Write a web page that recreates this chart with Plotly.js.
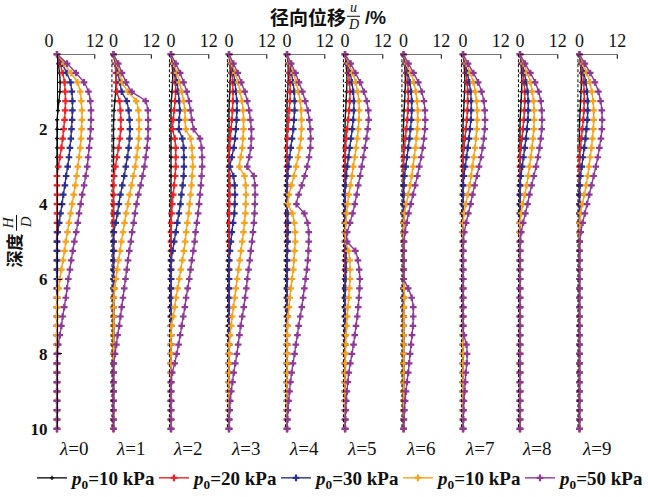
<!DOCTYPE html>
<html><head><meta charset="utf-8">
<script src="https://cdn.plot.ly/plotly-3.0.1.min.js"></script>
<style>html,body{margin:0;padding:0;background:#fff}</style>
</head><body><div id="chart" style="width:648px;height:497px"></div>
<script>
// depth H/D
const depth = [0,0.25,0.5,0.75,1,1.25,1.5,1.75,2,2.25,2.5,2.75,3,3.25,3.5,3.75,4,4.25,4.5,4.75,5,5.25,5.5,5.75,6,6.25,6.5,6.75,7,7.25,7.5,7.75,8,8.25,8.5,8.75,9,9.25,9.5,9.75,10];
const lambdas = [0,1,2,3,4,5,6,7,8,9];
const seriesNames = ['<i>p</i><sub>0</sub>=10 kPa','<i>p</i><sub>0</sub>=20 kPa','<i>p</i><sub>0</sub>=30 kPa','<i>p</i><sub>0</sub>=10 kPa','<i>p</i><sub>0</sub>=50 kPa'];

// radial displacement u/D (%) for each lambda panel
const p10a = [
 [0,0.4,0.8,1.0,0.9,0.6,0.3,0.05,0, 0,0,0,0,0,0,0,0, 0,0,0,0,0,0,0,0, 0,0,0,0,0,0,0,0, 0,0,0,0,0,0,0,0],
 [0,0.5,0.75,0.8,0.7,0.4,0.2,0.05,0, 0,0,0,0,0,0,0,0, 0,0,0,0,0,0,0,0, 0,0,0,0,0,0,0,0, 0,0,0,0,0,0,0,0],
 [0,0.3,0.55,0.5,0.35,0.1,0, 0,0,0,0,0,0,0,0, 0,0,0,0,0,0,0,0, 0,0,0,0,0,0,0,0, 0,0,0,0,0,0,0,0, 0,0],
 [0,0.25,0.4,0.35,0.25,0.1,0, 0,0,0,0,0,0,0,0, 0,0,0,0,0,0,0,0, 0,0,0,0,0,0,0,0, 0,0,0,0,0,0,0,0, 0,0],
 [0,0.3,0.4,0.35,0.2,0.05,0, 0,0,0,0,0,0,0,0, 0,0,0,0,0,0,0,0, 0,0,0,0,0,0,0,0, 0,0,0,0,0,0,0,0, 0,0],
 [0,0.3,0.55,0.6,0.5,0.35,0.2,0.05,0, 0,0,0,0,0,0,0,0, 0,0,0,0,0,0,0,0, 0,0,0,0,0,0,0,0, 0,0,0,0,0,0,0,0],
 [0,0.3,0.5,0.6,0.5,0.35,0.2,0.05,0, 0,0,0,0,0,0,0,0, 0,0,0,0,0,0,0,0, 0,0,0,0,0,0,0,0, 0,0,0,0,0,0,0,0],
 [0,0.3,0.5,0.6,0.5,0.35,0.2,0.05,0, 0,0,0,0,0,0,0,0, 0,0,0,0,0,0,0,0, 0,0,0,0,0,0,0,0, 0,0,0,0,0,0,0,0],
 [0,0.3,0.5,0.6,0.5,0.35,0.2,0.05,0, 0,0,0,0,0,0,0,0, 0,0,0,0,0,0,0,0, 0,0,0,0,0,0,0,0, 0,0,0,0,0,0,0,0],
 [0,0.3,0.5,0.6,0.5,0.35,0.2,0.05,0, 0,0,0,0,0,0,0,0, 0,0,0,0,0,0,0,0, 0,0,0,0,0,0,0,0, 0,0,0,0,0,0,0,0]
];
const p20 = [
 [0,0.9,1.8,2.4,2.6,2.7,2.6,2.4,2.1,1.8,1.4,0.9,0.4,0, 0,0,0,0,0,0,0,0, 0,0,0,0,0,0,0,0, 0,0,0,0,0,0,0,0, 0,0,0],
 [0,0.5,0.8,0.9,1.1,1.9,2.2,2.3,2.3,2.0,1.6,1.1,0.6,0.2,0, 0,0,0,0,0,0,0,0, 0,0,0,0,0,0,0,0, 0,0,0,0,0,0,0,0, 0,0],
 [0,0.5,1.0,1.4,1.5,1.3,1.0,0.7,0.5,1.2,1.5,1.5,1.5,1.3,1.0,0.7,0.4,0.2,0.05,0, 0,0,0,0,0,0,0,0, 0,0,0,0,0,0,0,0, 0,0,0,0,0],
 [0,0.45,0.9,1.15,1.25,1.25,1.1,0.9,0.65,0.4,0.2,0.05,0.05,0.2,0.25,0.2,0.15,0.1,0.05,0, 0,0,0,0,0,0,0,0, 0,0,0,0,0,0,0,0, 0,0,0,0,0],
 [0,0.5,0.8,1.0,1.0,0.9,0.7,0.5,0.3,0.1,0, 0,0,0,0,0,0,0,0, 0,0,0,0,0,0,0,0, 0,0,0,0,0,0,0,0, 0,0,0,0,0,0],
 [0,0.6,1.1,1.4,1.6,1.5,1.3,1.0,0.7,0.4,0.2,0.05,0, 0,0,0,0,0,0,0,0, 0,0,0,0,0,0,0,0, 0,0,0,0,0,0,0,0, 0,0,0,0],
 [0,0.5,1.0,1.3,1.5,1.5,1.4,1.2,0.9,0.6,0.3,0.05,0, 0,0,0,0,0,0,0,0, 0,0,0,0,0,0,0,0, 0,0,0,0,0,0,0,0, 0,0,0,0],
 [0,0.5,1.0,1.3,1.5,1.5,1.4,1.2,0.9,0.6,0.3,0.05,0, 0,0,0,0,0,0,0,0, 0,0,0,0,0,0,0,0, 0,0,0,0,0,0,0,0, 0,0,0,0],
 [0,0.5,1.0,1.3,1.5,1.5,1.4,1.2,0.9,0.6,0.3,0.05,0, 0,0,0,0,0,0,0,0, 0,0,0,0,0,0,0,0, 0,0,0,0,0,0,0,0, 0,0,0,0],
 [0,0.5,1.0,1.3,1.5,1.5,1.4,1.2,0.9,0.6,0.3,0.05,0, 0,0,0,0,0,0,0,0, 0,0,0,0,0,0,0,0, 0,0,0,0,0,0,0,0, 0,0,0,0]
];
const p30 = [
 [0,1.6,3.1,4.3,4.7,4.9,4.9,4.8,4.6,4.4,4.1,3.8,3.4,2.9,2.5,2.0,1.6,1.1,0.7,0.2,0, 0,0,0,0,0,0,0,0, 0,0,0,0,0,0,0,0, 0,0,0,0],
 [0,0.8,1.4,2.0,2.6,4.2,4.8,5.1,5.2,5.1,4.8,4.4,3.9,3.4,2.8,2.2,1.7,1.25,0.7,0.1,0, 0,0,0,0,0,0,0,0, 0,0,0,0,0,0,0,0, 0,0,0,0],
 [0,0.7,1.3,1.9,2.3,2.6,2.8,2.6,2.5,3.6,4.0,4.1,4.1,4.0,3.7,3.3,3.0,2.5,2.0,1.5,1.0,0.5,0.05,0, 0,0,0,0,0,0,0,0, 0,0,0,0,0,0,0,0, 0],
 [0,0.7,1.4,1.9,2.2,2.5,2.5,2.4,2.2,1.9,1.5,0.9,0.3,1.4,1.8,1.9,1.8,1.7,1.3,0.9,0.6,0.3,0.05,0, 0,0,0,0,0,0,0,0, 0,0,0,0,0,0,0,0, 0],
 [0,0.75,1.4,1.9,2.3,2.4,2.4,2.2,2.0,1.6,1.2,0.8,0.45,0.2,0.05,0,0,0.2,0.3,0.3,0.2,0.1,0, 0,0,0,0,0,0,0,0, 0,0,0,0,0,0,0,0, 0,0],
 [0,0.8,1.6,2.2,2.6,2.8,2.8,2.6,2.3,1.9,1.5,1.1,0.7,0.4,0.15,0,0,0,0,0,0.05,0.3,0.4,0.35,0.2,0.1,0, 0,0,0,0,0,0,0,0, 0,0,0,0,0,0],
 [0,0.7,1.4,2.0,2.4,2.6,2.6,2.5,2.2,1.9,1.5,1.1,0.7,0.3,0.05,0, 0,0,0,0,0,0,0,0, 0,0,0,0,0,0,0,0, 0,0,0,0,0,0,0,0, 0],
 [0,0.7,1.4,2.0,2.4,2.6,2.6,2.5,2.2,1.9,1.5,1.1,0.7,0.3,0.05,0, 0,0,0,0,0,0,0,0, 0,0,0,0,0,0,0,0, 0,0,0,0,0,0,0,0, 0],
 [0,0.7,1.4,2.0,2.4,2.6,2.6,2.5,2.2,1.9,1.5,1.1,0.7,0.3,0.05,0, 0,0,0,0,0,0,0,0, 0,0,0,0,0,0,0,0, 0,0,0,0,0,0,0,0, 0],
 [0,0.7,1.4,2.0,2.4,2.6,2.6,2.5,2.2,1.9,1.5,1.1,0.7,0.3,0.05,0, 0,0,0,0,0,0,0,0, 0,0,0,0,0,0,0,0, 0,0,0,0,0,0,0,0, 0]
];
const p10b = [
 [0,2.3,4.4,6.5,7.4,7.7,7.9,7.9,7.8,7.6,7.4,7.0,6.6,6.2,5.8,5.3,4.8,4.3,3.8,3.3,2.8,2.4,1.9,1.4,0.9,0.5,0.1,0, 0,0,0,0,0,0,0,0, 0,0,0,0,0],
 [0,1.1,2.0,2.7,4.6,7.2,7.9,8.1,8.1,8.0,7.7,7.3,6.9,6.3,5.7,5.1,4.6,4.0,3.5,3.0,2.5,2.1,1.6,1.2,0.8,0.4,0.05,0, 0,0,0,0,0,0,0,0, 0,0,0,0,0],
 [0,1.0,1.9,2.7,3.4,4.0,4.4,4.5,4.7,6.2,6.6,6.8,6.9,6.7,6.5,6.2,5.9,5.6,5.2,4.8,4.5,4.1,3.6,3.1,2.6,2.1,1.6,1.2,0.7,0.1,0, 0,0,0,0,0,0,0,0, 0,0],
 [0,0.9,2.0,2.9,3.5,4.1,4.5,4.6,4.6,4.4,4.2,3.7,3.3,4.9,5.3,5.4,5.3,5.2,4.9,4.6,4.2,3.8,3.4,3.0,2.6,2.2,1.8,1.4,1.0,0.7,0.35,0.1,0, 0,0,0,0,0,0,0,0],
 [0,1.0,2.1,2.9,3.6,4.2,4.5,4.6,4.6,4.4,4.0,3.5,2.9,2.2,1.4,0.6,0.3,1.7,2.3,2.6,2.6,2.4,2.2,2.0,1.6,1.2,0.9,0.6,0.35,0.15,0, 0,0,0,0,0,0,0,0, 0,0],
 [0,1.2,2.4,3.4,4.0,4.4,4.5,4.4,4.2,3.9,3.5,3.1,2.6,2.2,1.7,1.2,0.8,0.5,0.3,0.1,0.2,1.1,1.5,1.6,1.6,1.4,1.2,0.9,0.7,0.5,0.3,0.2,0.1,0.05,0, 0,0,0,0,0,0],
 [0,1.1,2.3,3.3,3.9,4.3,4.5,4.5,4.4,4.1,3.8,3.4,3.0,2.6,2.1,1.5,0.9,0.35,0.05,0, 0,0,0,0,0,0.2,0.3,0.2,0.1,0, 0,0,0,0,0,0,0,0, 0,0,0],
 [0,1.1,2.3,3.3,3.9,4.3,4.5,4.5,4.4,4.1,3.8,3.4,3.0,2.6,2.1,1.5,0.9,0.35,0.05,0, 0,0,0,0,0,0,0,0, 0,0,0,0,0,0,0,0, 0,0,0,0,0],
 [0,1.1,2.3,3.3,3.9,4.3,4.5,4.5,4.4,4.1,3.8,3.4,3.0,2.6,2.1,1.5,0.9,0.35,0.05,0, 0,0,0,0,0,0,0,0, 0,0,0,0,0,0,0,0, 0,0,0,0,0],
 [0,1.1,2.3,3.3,3.9,4.3,4.5,4.5,4.4,4.1,3.8,3.4,3.0,2.6,2.1,1.5,0.9,0.35,0.05,0, 0,0,0,0,0,0,0,0, 0,0,0,0,0,0,0,0, 0,0,0,0,0]
];
const p50 = [
 [0,3.2,6.0,8.6,10.0,10.6,10.8,10.8,10.7,10.5,10.2,9.9,9.6,9.1,8.6,8.0,7.5,7.0,6.6,6.1,5.5,5.0,4.5,4.1,3.6,3.2,2.8,2.3,1.8,1.4,0.9,0.4,0.05,0, 0,0,0,0,0,0,0],
 [0,1.5,2.7,4.0,5.8,10.2,10.9,11.0,11.0,10.9,10.6,10.2,9.8,9.2,8.6,7.9,7.3,6.8,6.4,5.9,5.5,5.0,4.6,4.2,3.8,3.4,3.0,2.6,2.2,1.8,1.3,0.9,0.5,0.1,0, 0,0,0,0,0,0],
 [0,1.5,2.9,4.0,5.0,5.7,6.2,6.6,7.2,9.2,9.7,9.9,9.9,9.7,9.5,9.2,8.9,8.6,8.2,7.8,7.5,7.1,6.6,6.2,5.8,5.3,4.8,4.4,3.9,3.4,2.9,2.4,1.8,1.2,0.4,0.05,0, 0,0,0,0],
 [0,1.4,2.8,3.9,5.0,5.8,6.4,6.8,7.1,7.1,6.9,6.4,5.8,7.9,8.2,8.3,8.2,8.1,7.9,7.6,7.3,6.9,6.6,6.2,5.8,5.5,5.1,4.7,4.2,3.7,3.3,2.9,2.5,2.0,1.5,1.1,0.7,0.4,0.2,0.05,0],
 [0,1.35,2.7,3.8,4.9,5.8,6.6,7.1,7.4,7.5,7.4,7.0,6.4,5.6,4.7,3.7,3.0,5.5,6.5,6.9,6.9,6.8,6.6,6.3,5.9,5.5,5.1,4.7,4.2,3.7,3.3,2.8,2.4,1.9,1.5,1.1,0.8,0.5,0.3,0.15,0.05],
 [0,1.8,3.3,4.8,6.0,6.9,7.4,7.5,7.2,6.8,6.3,5.8,5.3,4.8,4.2,3.7,3.1,2.4,1.6,0.7,0.7,3.3,4.1,4.5,4.7,4.6,4.4,4.2,3.9,3.5,3.1,2.7,2.2,1.7,1.2,0.9,0.6,0.4,0.25,0.1,0.05],
 [0,1.6,3.2,4.7,5.8,6.5,6.8,6.9,6.8,6.5,6.1,5.6,5.0,4.4,3.7,3.0,2.3,1.6,1.0,0.5,0.2,0.1,0.1,0.1,0.1,1.5,2.6,3.1,3.1,3.0,2.7,2.4,2.1,1.8,1.5,1.1,0.8,0.5,0.3,0.15,0.05],
 [0,1.6,3.3,4.8,5.9,6.6,6.9,7.0,6.9,6.6,6.2,5.7,5.1,4.4,3.7,3.0,2.4,1.7,1.0,0.4,0.1,0.05,0.05,0.05,0.05,0.05,0.05,0.05,0.05,0.05,0.3,1.1,1.3,1.2,0.9,0.7,0.5,0.3,0.2,0.1,0.05],
 [0,1.6,3.3,4.8,5.9,6.6,6.9,7.0,6.9,6.6,6.2,5.7,5.1,4.4,3.7,3.0,2.4,1.7,1.0,0.4,0.1, 0,0,0,0,0,0,0,0, 0,0,0,0,0,0,0,0, 0,0,0,0],
 [0,1.7,3.4,4.9,6.0,6.7,7.1,7.2,7.1,6.8,6.3,5.8,5.2,4.5,3.8,3.1,2.4,1.7,1.0,0.4,0.1, 0,0,0,0,0,0,0,0, 0,0,0,0,0,0,0,0, 0,0,0,0]
];
const xTickVals = [0, 12];
const xTickText = ['0', '12'];
const yTickVals = [2, 4, 6, 8, 10];

// ---------- layout helpers (pixel geometry) ----------
const W = 648, H = 497;
const zeroPx = [57,113.5,171,229,287,345,403.5,463,520,579.5];
const S = 37.8/12;
const yTop = 55, yBot = 435;
const px = v => v / W;
const py = v => 1 - v / H;

const series = [
  {data: p10a, color: '#151515', size: 3.5},
  {data: p20,  color: '#ec2227', size: 5.5},
  {data: p30,  color: '#2b3090', size: 5.5},
  {data: p10b, color: '#f5a21c', size: 5.5},
  {data: p50,  color: '#8c3a96', size: 5.5}
];

const traces = [];
const layout = {
  width: W, height: H,
  margin: {l: 0, r: 0, t: 0, b: 0},
  paper_bgcolor: '#fff', plot_bgcolor: 'rgba(0,0,0,0)',
  font: {family: 'Liberation Serif', color: '#111'},
  showlegend: true,
  hovermode: false,
  legend: {
    orientation: 'h', x: px(32), xanchor: 'left', y: py(485), yanchor: 'middle',
    font: {family: 'Liberation Serif', size: 19, color: '#111', weight: 'bold'},
    bgcolor: 'rgba(0,0,0,0)', entrywidth: 77, entrywidthmode: 'pixels', itemwidth: 30
  },
  yaxis: {
    domain: [py(yBot), py(yTop)], range: [10, 0], anchor: 'free', position: px(zeroPx[0]),
    showline: true, linecolor: '#000', linewidth: 1, ticks: 'inside', ticklen: 4, tickcolor: '#000',
    tickvals: yTickVals, tickfont: {family: 'Liberation Serif', size: 17, weight: 'bold', color: '#111'},
    ticklabelstandoff: 6, showgrid: false, zeroline: false, fixedrange: true
  },
  shapes: [], annotations: []
};

lambdas.forEach((lam, k) => {
  const ax = k === 0 ? 'x' : 'x' + (k + 1);
  const axKey = k === 0 ? 'xaxis' : 'xaxis' + (k + 1);
  const lo = k === 0 ? -3 : -1.5, hi = 14.5;
  layout[axKey] = {
    domain: [px(zeroPx[k] + lo * S), px(zeroPx[k] + hi * S)], range: [lo, hi],
    anchor: 'y', side: 'top', showline: false, showgrid: false, zeroline: false, ticks: '',
    tickvals: k === 0 ? [-2.5, xTickVals[1]] : xTickVals, ticktext: xTickText,
    tickfont: {family: 'Liberation Serif', size: 18, color: '#111'}, ticklabelstandoff: 3,
    fixedrange: true
  };
  series.forEach((s, j) => {
    traces.push({
      type: 'scatter', mode: 'lines+markers', x: s.data[k], y: depth,
      xaxis: ax, yaxis: 'y', name: seriesNames[j], legendgroup: 'g' + j, showlegend: k === 0,
      line: {color: s.color, width: 1.4, shape: 'spline', smoothing: 0.5},
      marker: {symbol: 'cross', size: s.size, color: s.color},
      cliponaxis: false
    });
  });
  // top axis bracket
  layout.shapes.push({type: 'line', xref: ax, yref: 'y', x0: 0, x1: 12, y0: 0, y1: 0, line: {color: '#000', width: 1}});
  layout.shapes.push({type: 'line', xref: ax, yref: 'y', x0: 12, x1: 12, y0: 0, y1: 0.12, line: {color: '#000', width: 1}});
  if (k > 0) {
    layout.shapes.push({type: 'line', xref: ax, yref: 'y', x0: -0.5, x1: -0.5, y0: 0, y1: 10, line: {color: '#000', width: 1, dash: '3px,2px'}});
  }
  layout.annotations.push({
    xref: 'paper', yref: 'paper', x: px(zeroPx[k] + 6 * S - 2), y: py(455), xanchor: 'center', yanchor: 'middle',
    text: '<i>λ</i>=' + lam, showarrow: false, font: {family: 'Liberation Serif', size: 19, color: '#111'}
  });
});

// axis titles
const ann = layout.annotations;
ann.push({xref:'paper', yref:'paper', x:px(307.5), y:py(17), xanchor:'center', yanchor:'middle', showarrow:false,
  text:'径向位移', font:{family:'Noto Sans CJK SC', size:19, weight:'bold', color:'#111'}});
ann.push({xref:'paper', yref:'paper', x:px(353.5), y:py(8), xanchor:'center', yanchor:'middle', showarrow:false,
  text:'<i>u</i>', font:{family:'Liberation Serif', size:14, color:'#111'}});
ann.push({xref:'paper', yref:'paper', x:px(353.5), y:py(25), xanchor:'center', yanchor:'middle', showarrow:false,
  text:'<i>D</i>', font:{family:'Liberation Serif', size:14, color:'#111'}});
ann.push({xref:'paper', yref:'paper', x:px(375), y:py(18.5), xanchor:'center', yanchor:'middle', showarrow:false,
  text:'/%', font:{family:'Liberation Sans', size:18, weight:'bold', color:'#111'}});
layout.shapes.push({type:'line', xref:'paper', yref:'paper', x0:px(347), x1:px(360), y0:py(16.5), y1:py(16.5), line:{color:'#111', width:1}});

ann.push({xref:'paper', yref:'paper', x:px(13), y:py(254), xanchor:'center', yanchor:'middle', showarrow:false, textangle:-90,
  text:'深度', font:{family:'Noto Sans CJK SC', size:17, weight:'bold', color:'#111'}});
ann.push({xref:'paper', yref:'paper', x:px(7.5), y:py(226), xanchor:'center', yanchor:'middle', showarrow:false, textangle:-90,
  text:'<i>H</i>', font:{family:'Liberation Serif', size:15, color:'#111'}});
ann.push({xref:'paper', yref:'paper', x:px(25.5), y:py(226), xanchor:'center', yanchor:'middle', showarrow:false, textangle:-90,
  text:'<i>D</i>', font:{family:'Liberation Serif', size:15, color:'#111'}});
layout.shapes.push({type:'line', xref:'paper', yref:'paper', x0:px(16.5), x1:px(16.5), y0:py(218), y1:py(234), line:{color:'#111', width:1}});

Plotly.newPlot('chart', traces, layout, {staticPlot: true, displayModeBar: false});
</script>
</body></html>
